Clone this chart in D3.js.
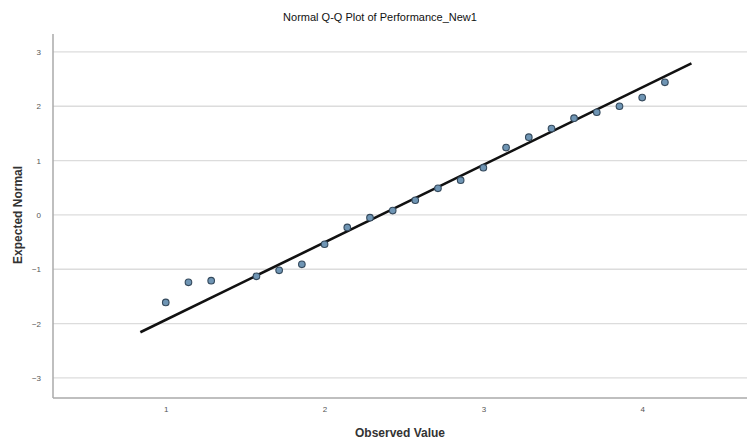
<!DOCTYPE html>
<html>
<head>
<meta charset="utf-8">
<script src="https://cdn.jsdelivr.net/npm/d3@7"></script>
<style>
   body { margin: 0; background: #fff; }
   text { font-family: "Liberation Sans", Arial, sans-serif; }
</style>
</head>
<body>
<div id="chartDiv"></div>
<script>
//----------------------------------------------------------------------------------------------------
// Normal Q-Q plot
var observed = [1.000, 1.143, 1.286, 1.571, 1.714, 1.857, 2.000, 2.143, 2.286, 2.429, 2.571,
                2.714, 2.857, 3.000, 3.143, 3.286, 3.429, 3.571, 3.714, 3.857, 4.000, 4.143];
var expected = [-1.61, -1.24, -1.21, -1.13, -1.02, -0.91, -0.54, -0.23, -0.05, 0.08, 0.27,
                0.49, 0.64, 0.87, 1.24, 1.43, 1.59, 1.78, 1.89, 2.00, 2.16, 2.44];
var refLineX = [0.84, 4.31];     // end points of the expected normal line
var refLineY = [-2.16, 2.79];
var xTicks = [1, 2, 3, 4];
var yTicks = [-3, -2, -1, 0, 1, 2, 3];
var titleText = "Normal Q-Q Plot of Performance_New1";
var xLabel = "Observed Value";
var yLabel = "Expected Normal";
//----------------------------------------------------------------------------------------------------
var width = 747, height = 443;
var plotLeft = 53, plotRight = 747, plotTop = 34, plotBottom = 398;

var xScale = d3.scaleLinear().domain([0.29, 4.66]).range([plotLeft, plotRight]);
var yScale = d3.scaleLinear().domain([-3.37, 3.33]).range([plotBottom, plotTop]);

var svg = d3.select("#chartDiv").append("svg")
   .attr("width", width)
   .attr("height", height);

   // horizontal grid lines
svg.append("g")
   .selectAll("line")
   .data(yTicks)
   .enter()
   .append("line")
   .attr("x1", plotLeft)
   .attr("x2", plotRight)
   .attr("y1", function(d){ return yScale(d); })
   .attr("y2", function(d){ return yScale(d); })
   .style("stroke", "#dcdcdc")
   .style("stroke-width", 1.3);

   // axes, SPSS style: gray spine, tiny labels, no tick marks
var yAxis = d3.axisLeft(yScale).tickValues(yTicks).tickFormat(d3.format("d"))
              .tickSize(0).tickPadding(12);
var xAxis = d3.axisBottom(xScale).tickValues(xTicks).tickFormat(d3.format("d"))
              .tickSize(0).tickPadding(8);

var gy = svg.append("g")
   .attr("transform", "translate(" + plotLeft + ",0)")
   .call(yAxis);
var gx = svg.append("g")
   .attr("transform", "translate(0," + plotBottom + ")")
   .call(xAxis);

[gx, gy].forEach(function(g){
   g.select(".domain").remove();
   g.selectAll("text")
      .style("font-size", "8px")
      .style("fill", "#555");
   });

svg.append("line")
   .attr("x1", plotLeft).attr("x2", plotLeft)
   .attr("y1", plotTop).attr("y2", plotBottom)
   .style("stroke", "#aaa").style("stroke-width", 1.5);
svg.append("line")
   .attr("x1", plotLeft).attr("x2", plotRight)
   .attr("y1", plotBottom).attr("y2", plotBottom)
   .style("stroke", "#aaa").style("stroke-width", 1.5);

   // expected normal reference line
svg.append("line")
   .attr("x1", xScale(refLineX[0])).attr("y1", yScale(refLineY[0]))
   .attr("x2", xScale(refLineX[1])).attr("y2", yScale(refLineY[1]))
   .style("stroke", "#111")
   .style("stroke-width", 2.6);

   // points
svg.append("g")
   .selectAll("circle")
   .data(observed)
   .enter()
   .append("circle")
   .attr("cx", function(d){ return xScale(d); })
   .attr("cy", function(d, i){ return yScale(expected[i]); })
   .attr("r", 3.3)
   .style("fill", "#6f95b4")
   .style("stroke", "#34495c")
   .style("stroke-width", 1.1);

   // titles
svg.append("text")
   .attr("x", 380).attr("y", 21)
   .attr("text-anchor", "middle")
   .style("font-size", "11px")
   .style("fill", "#111")
   .text(titleText);

svg.append("text")
   .attr("x", (plotLeft + plotRight) / 2).attr("y", 437)
   .attr("text-anchor", "middle")
   .style("font-size", "12px")
   .style("font-weight", "bold")
   .style("fill", "#333")
   .text(xLabel);

svg.append("text")
   .attr("transform", "translate(22," + yScale(0) + ") rotate(-90)")
   .attr("text-anchor", "middle")
   .style("font-size", "12px")
   .style("font-weight", "bold")
   .style("fill", "#333")
   .text(yLabel);
//----------------------------------------------------------------------------------------------------
</script>
</body>
</html>
